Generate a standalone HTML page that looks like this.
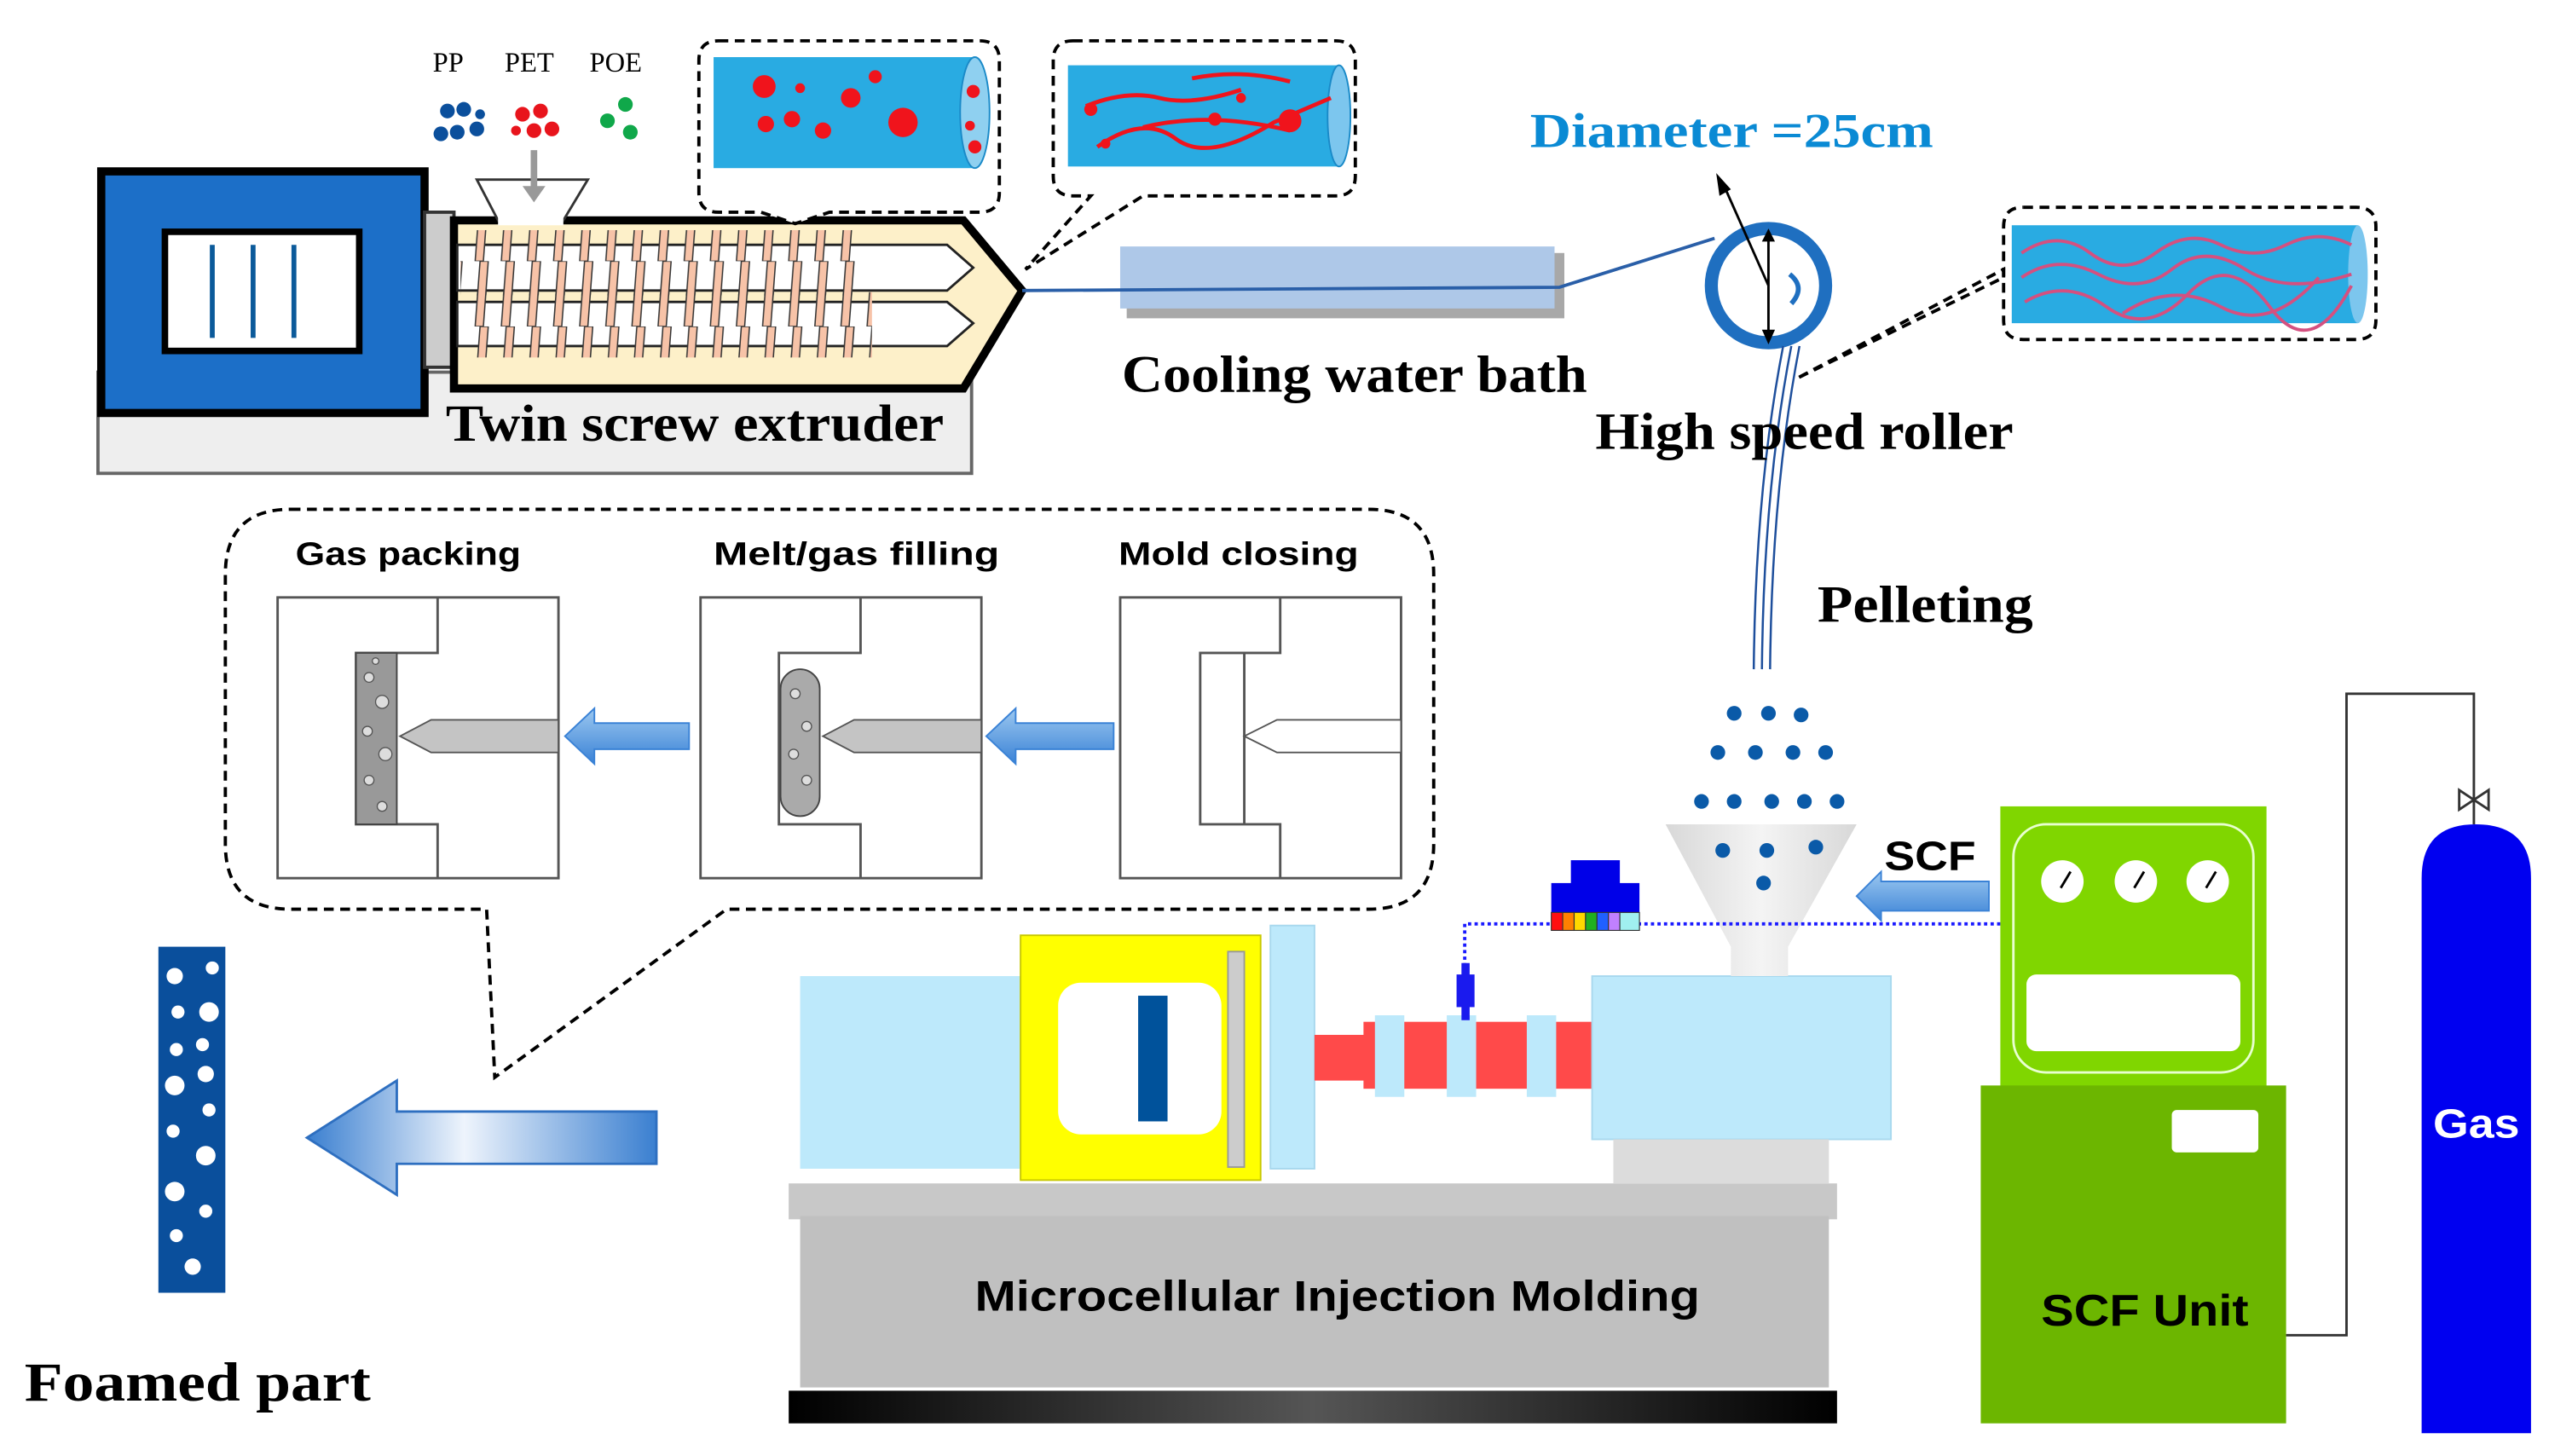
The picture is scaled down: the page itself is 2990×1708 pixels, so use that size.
<!DOCTYPE html>
<html><head><meta charset="utf-8"><style>
html,body{margin:0;padding:0;background:#fff}
svg{display:block}
.ser{font-family:"Liberation Serif",serif;font-weight:bold}
.san{font-family:"Liberation Sans",sans-serif;font-weight:bold}
</style></head><body>
<svg width="2990" height="1708" viewBox="0 0 1561 892" preserveAspectRatio="none" xmlns="http://www.w3.org/2000/svg">
<defs>
<pattern id="fl" x="0" y="0" width="16" height="40" patternUnits="userSpaceOnUse">
<polygon points="6,0 11,0 8,40 3,40" fill="#f7c3a8" stroke="#333" stroke-width="0.8"/>
</pattern>
<linearGradient id="ag" x1="0" x2="1"><stop offset="0" stop-color="#3a7fd0"/><stop offset="0.45" stop-color="#eef4fc"/><stop offset="1" stop-color="#3a7fd0"/></linearGradient>
<linearGradient id="ag2" x1="0" x2="0" y1="0" y2="1"><stop offset="0" stop-color="#9cc8f0"/><stop offset="1" stop-color="#3a82d6"/></linearGradient>
<linearGradient id="bb" x1="0" x2="1"><stop offset="0" stop-color="#000"/><stop offset="0.5" stop-color="#555"/><stop offset="1" stop-color="#000"/></linearGradient>
<linearGradient id="fun" x1="0" x2="1"><stop offset="0" stop-color="#d8d8d8"/><stop offset="0.5" stop-color="#f4f4f4"/><stop offset="1" stop-color="#d8d8d8"/></linearGradient>
</defs>

<!-- Extruder -->
<rect x="60" y="228" width="535" height="62" fill="#eee" stroke="#666" stroke-width="2"/>
<rect x="62" y="105" width="198" height="148" fill="#1c6fc8" stroke="#000" stroke-width="5"/>
<rect x="101" y="142" width="119" height="73" fill="#fff" stroke="#000" stroke-width="4"/>
<line x1="130" y1="150" x2="130" y2="207" stroke="#0b5a9a" stroke-width="3"/>
<line x1="155" y1="150" x2="155" y2="207" stroke="#0b5a9a" stroke-width="3"/>
<line x1="180" y1="150" x2="180" y2="207" stroke="#0b5a9a" stroke-width="3"/>
<rect x="260" y="130" width="18" height="95" fill="#ccc" stroke="#333" stroke-width="2"/>
<polygon points="278,135 590,135 626,178 590,238 278,238" fill="#fdf0c9" stroke="#000" stroke-width="5"/>
<polygon points="280,150 580,150 596,164 580,178 280,178" fill="#fff" stroke="#222" stroke-width="1.5"/>
<polygon points="280,185 580,185 596,198 580,212 280,212" fill="#fff" stroke="#222" stroke-width="1.5"/>
<rect x="282" y="141" width="245" height="40" fill="url(#fl)"/>
<rect x="284" y="179" width="250" height="40" fill="url(#fl)"/>
<polygon points="292,110 360,110 345,135 305,135" fill="#fff" stroke="#333" stroke-width="1.5"/>
<rect x="305" y="130" width="40" height="8" fill="#fff"/>
<line x1="327" y1="92" x2="327" y2="116" stroke="#999" stroke-width="4"/>
<polygon points="320,114 334,114 327,124" fill="#999"/>
<text x="265" y="44" font-family="Liberation Serif,serif" font-size="17">PP</text>
<text x="309" y="44" font-family="Liberation Serif,serif" font-size="17">PET</text>
<text x="361" y="44" font-family="Liberation Serif,serif" font-size="17">POE</text>
<g fill="#0b4f9c"><circle cx="274" cy="68" r="4.5"/><circle cx="284" cy="67" r="4.5"/><circle cx="270" cy="82" r="4.5"/><circle cx="280" cy="81" r="4.5"/><circle cx="292" cy="79" r="4.5"/><circle cx="294" cy="70" r="3"/></g>
<g fill="#e8141c"><circle cx="320" cy="70" r="4.5"/><circle cx="331" cy="68" r="4.5"/><circle cx="327" cy="80" r="4.5"/><circle cx="338" cy="79" r="4.5"/><circle cx="316" cy="80" r="3"/></g>
<g fill="#10a84a"><circle cx="383" cy="64" r="4.5"/><circle cx="372" cy="74" r="4.5"/><circle cx="386" cy="81" r="4.5"/></g>
<text x="273" y="270" class="ser" font-size="32" textLength="305" lengthAdjust="spacingAndGlyphs">Twin screw extruder</text>

<!-- Callout 1 -->
<path d="M440,25 H600 Q612,25 612,37 V118 Q612,130 600,130 H508 L487,137 L466,130 H440 Q428,130 428,118 V37 Q428,25 440,25 Z" fill="#fff" stroke="#000" stroke-width="2" stroke-dasharray="6,4"/>
<rect x="437" y="35" width="160" height="68" fill="#29abe2"/>
<ellipse cx="597" cy="69" rx="9" ry="34" fill="#8fd0f0" stroke="#1a8ac8"/>
<g fill="#f0141c"><circle cx="468" cy="53" r="7"/><circle cx="490" cy="54" r="3"/><circle cx="521" cy="60" r="6"/><circle cx="536" cy="47" r="4"/><circle cx="469" cy="76" r="5"/><circle cx="485" cy="73" r="5"/><circle cx="504" cy="80" r="5"/><circle cx="553" cy="75" r="9"/><circle cx="596" cy="56" r="4"/><circle cx="594" cy="77" r="3"/><circle cx="597" cy="90" r="4"/></g>

<!-- Callout 2 -->
<path d="M657,25 H818 Q830,25 830,37 V108 Q830,120 818,120 H700 L628,165 L668,120 H657 Q645,120 645,108 V37 Q645,25 657,25 Z" fill="#fff" stroke="#000" stroke-width="2" stroke-dasharray="6,4"/>
<rect x="654" y="40" width="166" height="62" fill="#29abe2"/>
<ellipse cx="820" cy="71" rx="7" ry="31" fill="#7cc6ee" stroke="#1a8ac8"/>
<g stroke="#f0141c" stroke-width="2.5" fill="none"><path d="M665,65 Q690,55 710,60 T760,55"/><path d="M672,90 Q700,70 720,85 T780,75 L815,60"/><path d="M700,78 Q740,68 790,80"/><path d="M730,48 Q760,42 790,50"/></g>
<g fill="#f0141c"><circle cx="668" cy="67" r="4"/><circle cx="677" cy="88" r="3"/><circle cx="744" cy="73" r="4"/><circle cx="790" cy="74" r="7"/><circle cx="760" cy="60" r="3"/></g>

<!-- Cooling bath -->
<rect x="690" y="155" width="268" height="40" fill="#a8a8a8"/>
<rect x="686" y="151" width="266" height="38" fill="#aec8e8"/>
<polyline points="626,178 955,176 1050,146" fill="none" stroke="#2a5fa8" stroke-width="2"/>
<text x="687" y="240" class="ser" font-size="32" textLength="285" lengthAdjust="spacingAndGlyphs">Cooling water bath</text>

<!-- Roller -->
<text x="937" y="90" class="ser" font-size="30" fill="#0a8ad4" textLength="247" lengthAdjust="spacingAndGlyphs">Diameter =25cm</text>
<circle cx="1083" cy="175" r="35" fill="#fff" stroke="#1f6fc0" stroke-width="8"/>
<line x1="1083" y1="145" x2="1083" y2="205" stroke="#000" stroke-width="1.5"/>
<polygon points="1079,148 1087,148 1083,140" fill="#000"/>
<polygon points="1079,202 1087,202 1083,211" fill="#000"/>
<line x1="1083" y1="175" x2="1055" y2="112" stroke="#000" stroke-width="1.5"/>
<polygon points="1051,106 1053,120 1060,116" fill="#000"/>
<path d="M1096,168 Q1106,176 1097,186" stroke="#1f6fc0" stroke-width="3" fill="none"/>
<g stroke="#1e4f9c" stroke-width="1.3" fill="none"><path d="M1092,212 Q1075,300 1074,410"/><path d="M1097,212 Q1080,300 1079,410"/><path d="M1102,212 Q1085,300 1084,410"/></g>
<text x="977" y="275" class="ser" font-size="32" textLength="256" lengthAdjust="spacingAndGlyphs">High speed roller</text>
<text x="1113" y="381" class="ser" font-size="32" textLength="132" lengthAdjust="spacingAndGlyphs">Pelleting</text>

<!-- Callout 3 -->
<path d="M1239,127 H1443 Q1455,127 1455,139 V196 Q1455,208 1443,208 H1239 Q1227,208 1227,196 V165 L1100,232 L1227,170" fill="#fff" stroke="#000" stroke-width="2" stroke-dasharray="6,4"/>
<path d="M1227,170 V139 Q1227,127 1239,127" fill="none" stroke="#000" stroke-width="2" stroke-dasharray="6,4"/>
<rect x="1232" y="138" width="212" height="60" fill="#29abe2"/>
<ellipse cx="1444" cy="168" rx="6" ry="30" fill="#7cc6ee"/>
<g stroke="#d45080" stroke-width="2" fill="none"><path d="M1238,155 Q1260,140 1280,155 T1320,155 T1360,150 T1400,150 T1440,150"/><path d="M1238,170 Q1260,155 1285,168 T1330,165 T1375,165 T1440,168"/><path d="M1240,185 Q1265,170 1290,188 T1340,180 T1390,188 T1440,175"/><path d="M1300,192 Q1330,172 1360,188 T1420,170"/></g>

<!-- Process box -->
<path d="M178,312 H838 Q878,312 878,352 V517 Q878,557 838,557 H445 L303,660 L298,557 H178 Q138,557 138,517 V352 Q138,312 178,312 Z" fill="#fff" stroke="#000" stroke-width="2" stroke-dasharray="6,4"/>
<text x="181" y="346" class="san" font-size="20" textLength="138" lengthAdjust="spacingAndGlyphs">Gas packing</text>
<text x="437" y="346" class="san" font-size="20" textLength="175" lengthAdjust="spacingAndGlyphs">Melt/gas filling</text>
<text x="685" y="346" class="san" font-size="20" textLength="147" lengthAdjust="spacingAndGlyphs">Mold closing</text>
<g fill="#fff" stroke="#555" stroke-width="1.5">
<rect x="170" y="366" width="172" height="172"/><rect x="429" y="366" width="172" height="172"/><rect x="686" y="366" width="172" height="172"/>
</g>
<g fill="none" stroke="#555" stroke-width="1.5">
<path d="M268,366 V400 H218 V505 H268 V538"/>
<path d="M527,366 V400 H477 V505 H527 V538"/>
<path d="M784,366 V400 H735 V505 H784 V538"/>
<line x1="762" y1="400" x2="762" y2="505"/>
</g>
<rect x="218" y="400" width="25" height="105" fill="#999" stroke="#444"/>
<g fill="#ddd" stroke="#555" stroke-width="0.7"><circle cx="226" cy="415" r="3"/><circle cx="234" cy="430" r="4"/><circle cx="225" cy="448" r="3"/><circle cx="236" cy="462" r="4"/><circle cx="226" cy="478" r="3"/><circle cx="234" cy="494" r="3"/><circle cx="230" cy="405" r="2"/></g>
<rect x="478" y="410" width="24" height="90" rx="12" fill="#aaa" stroke="#444"/>
<g fill="#ddd" stroke="#555" stroke-width="0.7"><circle cx="487" cy="425" r="3"/><circle cx="494" cy="445" r="3"/><circle cx="486" cy="462" r="3"/><circle cx="494" cy="478" r="3"/></g>
<polygon points="342,441 264,441 245,451 264,461 342,461" fill="#c4c4c4" stroke="#555"/>
<polygon points="601,441 523,441 504,451 523,461 601,461" fill="#c4c4c4" stroke="#555"/>
<polygon points="858,441 782,441 762,451 782,461 858,461" fill="#fff" stroke="#555"/>
<g fill="url(#ag2)" stroke="#3a82d6"><polygon points="346,451 364,434 364,443 422,443 422,459 364,459 364,468"/><polygon points="604,451 622,434 622,443 682,443 682,459 622,459 622,468"/></g>

<!-- Foamed part -->
<rect x="97" y="580" width="41" height="212" fill="#0a4f9c"/>
<g fill="#fff"><circle cx="107" cy="598" r="5"/><circle cx="130" cy="593" r="4"/><circle cx="109" cy="620" r="4"/><circle cx="128" cy="620" r="6"/><circle cx="108" cy="643" r="4"/><circle cx="124" cy="640" r="4"/><circle cx="126" cy="658" r="5"/><circle cx="107" cy="665" r="6"/><circle cx="128" cy="680" r="4"/><circle cx="106" cy="693" r="4"/><circle cx="126" cy="708" r="6"/><circle cx="107" cy="730" r="6"/><circle cx="126" cy="742" r="4"/><circle cx="108" cy="757" r="4"/><circle cx="118" cy="776" r="5"/></g>
<text x="15" y="858" class="ser" font-size="34" textLength="212" lengthAdjust="spacingAndGlyphs">Foamed part</text>
<polygon points="188,697 243,662 243,681 402,681 402,713 243,713 243,732" fill="url(#ag)" stroke="#2e6fc0" stroke-width="1.5"/>

<!-- Injection machine -->
<rect x="483" y="725" width="642" height="22" fill="#c8c8c8"/>
<rect x="490" y="745" width="630" height="105" fill="#c0c0c0"/>
<rect x="483" y="852" width="642" height="20" fill="url(#bb)"/>
<text x="597" y="803" class="san" font-size="26" textLength="444" lengthAdjust="spacingAndGlyphs">Microcellular Injection Molding</text>
<rect x="490" y="598" width="138" height="118" fill="#bde9fb"/>
<rect x="625" y="573" width="147" height="150" fill="#ffff00" stroke="#c8c800"/>
<rect x="648" y="602" width="100" height="93" rx="14" fill="#fff"/>
<rect x="697" y="610" width="18" height="77" fill="#00529b"/>
<rect x="752" y="583" width="10" height="132" fill="#ccc" stroke="#999"/>
<rect x="778" y="567" width="27" height="149" fill="#bde9fb" stroke="#a8d8ee"/>
<rect x="805" y="634" width="38" height="28" fill="#ff4a4a"/>
<rect x="835" y="626" width="140" height="41" fill="#ff4a4a"/>
<g fill="#bde9fb"><rect x="842" y="622" width="18" height="50"/><rect x="886" y="622" width="18" height="50"/><rect x="935" y="622" width="18" height="50"/></g>
<rect x="975" y="598" width="183" height="100" fill="#bde9fb" stroke="#a8d8ee"/>
<rect x="988" y="698" width="132" height="27" fill="#dcdcdc"/>
<polygon points="1020,505 1137,505 1095,580 1095,598 1060,598 1060,580" fill="url(#fun)"/>
<polyline points="897,600 897,566 1225,566" fill="none" stroke="#1a1aff" stroke-width="2" stroke-dasharray="2,2"/>
<rect x="892" y="597" width="11" height="20" fill="#1a1aee"/>
<rect x="895" y="590" width="5" height="35" fill="#1a1aee"/>
<rect x="962" y="527" width="30" height="18" fill="#0000e8"/>
<rect x="950" y="541" width="54" height="18" fill="#0000e8"/>
<g stroke="#333" stroke-width="0.6"><rect x="950" y="559" width="7" height="11" fill="#ff1010"/><rect x="957" y="559" width="7" height="11" fill="#ff8000"/><rect x="964" y="559" width="7" height="11" fill="#ffd800"/><rect x="971" y="559" width="7" height="11" fill="#20b020"/><rect x="978" y="559" width="7" height="11" fill="#2060ff"/><rect x="985" y="559" width="7" height="11" fill="#c080ff"/><rect x="992" y="559" width="12" height="11" fill="#a0f0f0"/></g>
<g fill="#0a5aa8"><circle cx="1062" cy="437" r="4.5"/><circle cx="1083" cy="437" r="4.5"/><circle cx="1103" cy="438" r="4.5"/><circle cx="1052" cy="461" r="4.5"/><circle cx="1075" cy="461" r="4.5"/><circle cx="1098" cy="461" r="4.5"/><circle cx="1118" cy="461" r="4.5"/><circle cx="1042" cy="491" r="4.5"/><circle cx="1062" cy="491" r="4.5"/><circle cx="1085" cy="491" r="4.5"/><circle cx="1105" cy="491" r="4.5"/><circle cx="1125" cy="491" r="4.5"/><circle cx="1055" cy="521" r="4.5"/><circle cx="1082" cy="521" r="4.5"/><circle cx="1112" cy="519" r="4.5"/><circle cx="1080" cy="541" r="4.5"/></g>
<text x="1154" y="533" class="san" font-size="25" textLength="56" lengthAdjust="spacingAndGlyphs">SCF</text>
<polygon points="1137,549 1152,534 1152,540 1218,540 1218,558 1152,558 1152,564" fill="url(#ag2)" stroke="#3a82d6"/>

<!-- SCF unit -->
<rect x="1225" y="494" width="163" height="172" fill="#80d600"/>
<rect x="1233" y="505" width="147" height="152" rx="20" fill="none" stroke="#e8ffd0" stroke-width="1.5"/>
<g fill="#fff"><circle cx="1263" cy="540" r="13"/><circle cx="1308" cy="540" r="13"/><circle cx="1352" cy="540" r="13"/></g>
<g stroke="#000" stroke-width="1.5"><line x1="1262" y1="544" x2="1268" y2="534"/><line x1="1307" y1="544" x2="1313" y2="534"/><line x1="1351" y1="544" x2="1357" y2="534"/></g>
<rect x="1241" y="597" width="131" height="47" rx="6" fill="#fff"/>
<rect x="1213" y="665" width="187" height="207" fill="#6cb600"/>
<rect x="1330" y="680" width="53" height="26" rx="3" fill="#fff"/>
<text x="1250" y="812" class="san" font-size="27" textLength="127" lengthAdjust="spacingAndGlyphs">SCF Unit</text>
<polyline points="1400,818 1437,818 1437,425 1515,425 1515,505" fill="none" stroke="#333" stroke-width="1.5"/>
<polygon points="1506,484 1524,496 1524,484 1506,496" fill="#fff" stroke="#333" stroke-width="1.5"/>
<path d="M1483,878 V538 Q1483,505 1516,505 Q1550,505 1550,538 V878 Z" fill="#0000f0"/>
<text x="1490" y="697" class="san" font-size="25" fill="#fff" textLength="53" lengthAdjust="spacingAndGlyphs">Gas</text>
</svg>
</body></html>
